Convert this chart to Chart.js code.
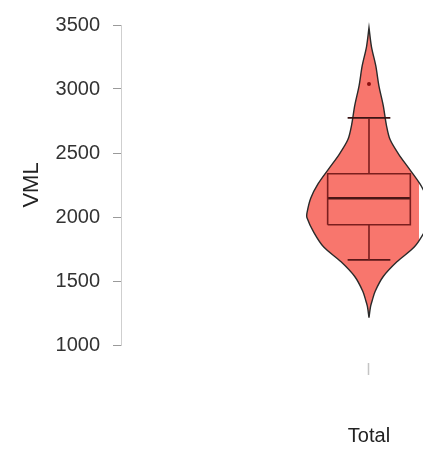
<!DOCTYPE html>
<html>
<head>
<meta charset="utf-8">
<title>VML violin</title>
<script src="https://cdn.jsdelivr.net/npm/chart.js@4.4.1/dist/chart.umd.min.js"></script>
<style>
    html, body { margin: 0; padding: 0; background: #ffffff; }
    #wrap { position: relative; width: 423px; height: 450px; }
</style>
</head>
<body>
<div id="wrap"><canvas id="violin-chart"></canvas></div>
<script>
// 데이터
const categories = ['Total'];
const yTicks = [1000, 1500, 2000, 2500, 3000, 3500];

// 밀도 곡선 (VML 값, 상대 밀도)
const vmlLevels = [1214, 1300, 1344, 1420, 1535, 1650, 1765, 1880, 1994, 2032, 2147, 2260, 2376, 2490, 2605, 2720, 2870, 3025, 3180, 3330, 3480];
const density   = [0, 0.025, 0.05, 0.10, 0.23, 0.45, 0.73, 0.89, 1.0, 1.0, 0.94, 0.82, 0.65, 0.48, 0.34, 0.28, 0.23, 0.16, 0.11, 0.04, 0];

// 박스플롯 통계
const boxQ1 = [1940];
const boxMedian = [2147];
const boxQ3 = [2338];
const whiskerLow = [1665];
const whiskerHigh = [2774];
const outliers = [3040];

// 모양 설정
const VIOLIN_HALF = 0.45;
const BOX_HALF = 0.30;
const CAP_HALF = 0.155;
const FONT = 'Arial, "Liberation Sans", Helvetica, sans-serif';

// 바이올린 외곽선: 오른쪽 아래→위, 왼쪽 위→아래
const violinPoints = [];
vmlLevels.forEach((v, i) => violinPoints.push({ x: density[i] * VIOLIN_HALF, y: v }));
for (let i = vmlLevels.length - 1; i >= 0; i--) {
    violinPoints.push({ x: -density[i] * VIOLIN_HALF, y: vmlLevels[i] });
}

const q1 = boxQ1[0], med = boxMedian[0], q3 = boxQ3[0];
const lo = whiskerLow[0], hi = whiskerHigh[0];

const seg = (pts, color, width) => ({
    data: pts,
    borderColor: color,
    borderWidth: width,
    pointRadius: 0,
    tension: 0,
    fill: false,
    order: 1
});

const datasets = [
    {
        data: violinPoints,
        borderColor: '#2a2a2a',
        borderWidth: 1.4,
        backgroundColor: '#F8766D',
        fill: 'shape',
        pointRadius: 0,
        tension: 0.3,
        clip: false,
        order: 10
    },
    seg([{ x: -BOX_HALF, y: q1 }, { x: BOX_HALF, y: q1 }, { x: BOX_HALF, y: q3 },
         { x: -BOX_HALF, y: q3 }, { x: -BOX_HALF, y: q1 }], '#7a1e1e', 1.6),
    seg([{ x: -BOX_HALF, y: med }, { x: BOX_HALF, y: med }], '#4a1616', 2.6),
    seg([{ x: 0, y: q3 }, { x: 0, y: hi }], '#7a1e1e', 1.6),
    seg([{ x: -CAP_HALF, y: hi }, { x: CAP_HALF, y: hi }], '#3a1414', 1.8),
    seg([{ x: 0, y: q1 }, { x: 0, y: lo }], '#7a1e1e', 1.6),
    seg([{ x: -CAP_HALF, y: lo }, { x: CAP_HALF, y: lo }], '#5a1818', 1.8),
    {
        data: outliers.map(v => ({ x: 0, y: v })),
        showLine: false,
        pointRadius: 2,
        pointBackgroundColor: '#8b1010',
        pointBorderWidth: 0,
        order: 0
    }
];

new Chart(document.getElementById('violin-chart').getContext('2d'), {
    type: 'line',
    data: { datasets },
    options: {
        responsive: true,
        maintainAspectRatio: false,
        animation: false,
        layout: { padding: { top: 18, right: 0, bottom: 0, left: 0 } },
        plugins: {
            legend: { display: false },
            tooltip: { enabled: false }
        },
        scales: {
            x: {
                type: 'linear',
                min: -1.80,
                max: 0.363,
                afterBuildTicks: (scale) => { scale.ticks = [{ value: 0 }]; },
                afterFit: (scale) => {
                    scale.height = 105;
                    scale.paddingLeft = 0;
                    scale.paddingRight = 0;
                },
                border: { display: false },
                grid: {
                    drawOnChartArea: false,
                    tickLength: 32,
                    tickColor: '#c4c4c4',
                    tickWidth: 1.5,
                    tickBorderDash: [0, 18, 12, 1000]
                },
                ticks: {
                    padding: 47,
                    color: '#222',
                    font: { family: FONT, size: 20 },
                    callback: () => categories[0]
                }
            },
            y: {
                type: 'linear',
                min: 1000,
                max: 3500,
                afterBuildTicks: (scale) => { scale.ticks = yTicks.map(v => ({ value: v })); },
                afterFit: (scale) => { scale.width = 121; },
                border: { display: true, color: '#cfcfcf', width: 1 },
                grid: {
                    drawOnChartArea: false,
                    tickLength: 8,
                    tickColor: '#9a9a9a'
                },
                ticks: {
                    padding: 13,
                    color: '#333',
                    font: { family: FONT, size: 20 },
                    callback: (v) => String(v)
                },
                title: {
                    display: true,
                    text: 'VML',
                    color: '#222',
                    padding: { top: 19, bottom: 0 },
                    font: { family: FONT, size: 22 }
                }
            }
        }
    }
});
</script>
</body>
</html>
